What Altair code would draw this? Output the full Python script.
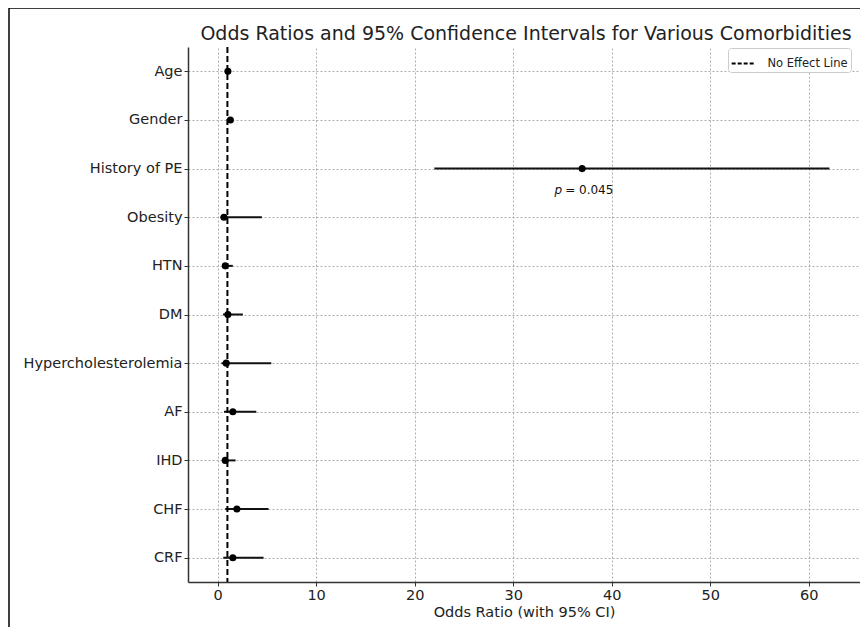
import altair as alt
import pandas as pd

categories = ["Age", "Gender", "History of PE", "Obesity", "HTN", "DM",
              "Hypercholesterolemia", "AF", "IHD", "CHF", "CRF"]
odds_ratio = [1.05, 1.3, 37.0, 0.65, 0.78, 1.05, 0.88, 1.55, 0.78, 1.96, 1.55]
ci_low = [0.98, 1.05, 22.0, 0.3, 0.45, 0.55, 0.4, 0.65, 0.44, 0.78, 0.58]
ci_high = [1.12, 1.55, 62.1, 4.5, 1.55, 2.57, 5.45, 3.93, 1.83, 5.18, 4.67]
x_ticks = [0, 10, 20, 30, 40, 50, 60]
no_effect = 1.0
p_label_cat = "History of PE"
p_label_val = "= 0.045"
title_text = "Odds Ratios and 95% Confidence Intervals for Various Comorbidities"

df = pd.DataFrame({"cat": categories, "idx": list(range(len(categories))),
                   "or": odds_ratio, "lo": ci_low, "hi": ci_high})

FONT = "DejaVu Sans"
xscale = alt.Scale(domain=[-3.0, 65.2], nice=False, zero=False)
yscale = alt.Scale(domain=[-0.5, len(categories) - 0.5], reverse=True, nice=False, zero=False)
label_array = "[" + ",".join("'" + c + "'" for c in categories) + "]"

xaxis = alt.Axis(values=x_ticks, title="Odds Ratio (with 95% CI)", grid=True,
                 gridDash=[2, 2], gridColor="#999", gridWidth=0.8,
                 domainColor="#333", domainWidth=1.5, tickColor="#333",
                 tickSize=4, labelFontSize=14.5, titleFontSize=14.5,
                 labelColor="#222", titleColor="#222", titleFontWeight="normal",
                 labelFont=FONT, titleFont=FONT, titlePadding=4, labelPadding=2)
yaxis = alt.Axis(title=None, grid=True, gridDash=[2, 2], gridColor="#999",
                 gridWidth=0.8, domainColor="#333", domainWidth=1.5,
                 tickColor="#333", tickSize=4, labelFontSize=14.5, labelColor="#222",
                 labelFont=FONT, labelPadding=2,
                 values=list(range(len(categories))),
                 labelExpr=label_array + "[datum.value]")

base = alt.Chart(df)

bars = base.mark_rule(color="#111", strokeWidth=2).encode(
    x=alt.X("lo:Q", scale=xscale, axis=xaxis),
    x2="hi:Q",
    y=alt.Y("idx:Q", scale=yscale, axis=yaxis),
)

points = base.mark_point(filled=True, color="#000", size=50, opacity=1).encode(
    x=alt.X("or:Q", scale=xscale),
    y=alt.Y("idx:Q", scale=yscale),
)

ref = alt.Chart(pd.DataFrame({"x": [no_effect], "lbl": ["No Effect Line"]})).mark_rule(
    strokeDash=[6, 3], strokeWidth=2
).encode(
    x=alt.X("x:Q", scale=xscale),
    color=alt.Color("lbl:N", scale=alt.Scale(range=["#000"]),
                    legend=alt.Legend(title=None, orient="none", legendX=540, legendY=1,
                                      symbolType="stroke", symbolDash=[4, 2],
                                      symbolStrokeWidth=2, symbolSize=560,
                                      labelFontSize=11.5, labelFont=FONT,
                                      labelColor="#222", labelOffset=11,
                                      fillColor="white", strokeColor="#ccc",
                                      cornerRadius=3, padding=2.5)),
)

pdf = df[df["cat"] == p_label_cat].assign(ptxt="p", vtxt=p_label_val)
p_text = alt.Chart(pdf).mark_text(font=FONT, fontSize=12, fontStyle="italic",
                                  align="right", dx=-20, dy=21, color="#111").encode(
    x=alt.X("or:Q", scale=xscale), y=alt.Y("idx:Q", scale=yscale), text="ptxt:N")
v_text = alt.Chart(pdf).mark_text(font=FONT, fontSize=12, align="left",
                                  dx=-17, dy=21, color="#111").encode(
    x=alt.X("or:Q", scale=xscale), y=alt.Y("idx:Q", scale=yscale), text="vtxt:N")

# figure title (drawn as text so the frame lines do not push it off the canvas)
title = alt.Chart(pd.DataFrame({"t": [title_text]})).mark_text(
    font=FONT, fontSize=19, color="#222", align="center", baseline="middle"
).encode(x=alt.value(338), y=alt.value(-13), text="t:N")

# outer frame of the figure (decoration)
frame_top = alt.Chart(pd.DataFrame({"a": [0]})).mark_rule(color="#000", strokeWidth=1.5).encode(
    x=alt.value(-179), x2=alt.value(690), y=alt.value(-39))
frame_left = alt.Chart(pd.DataFrame({"a": [0]})).mark_rule(color="#000", strokeWidth=1.5).encode(
    x=alt.value(-179), y=alt.value(-39), y2=alt.value(600))

chart = alt.layer(bars, points, ref, p_text, v_text, title, frame_top, frame_left).properties(
    width=672, height=535,
    autosize=alt.AutoSizeParams(type="none"),
    padding={"left": 180, "top": 39, "right": 0, "bottom": 45},
).configure_view(stroke=None)

chart.save("out.html", embed_options={"renderer": "svg", "actions": False})
